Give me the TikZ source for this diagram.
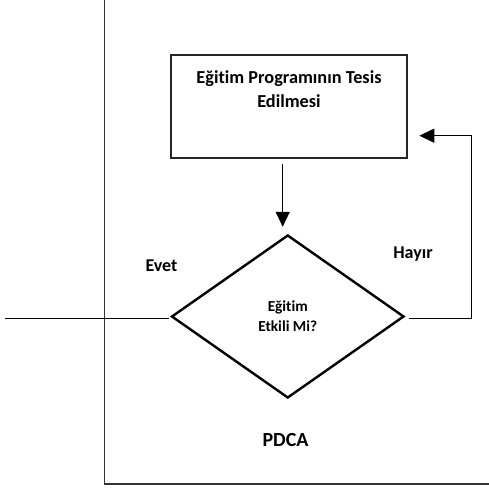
\documentclass[tikz,border=0pt]{standalone}
\usepackage{fontspec}
\setmainfont{Carlito}[Ligatures={NoCommon}]
\usetikzlibrary{arrows.meta,shapes.geometric}
\tikzset{
  progbox/.style={draw=black!85, line width=1.3pt, minimum width=236pt, minimum height=103pt, inner sep=0pt},
  decision/.style={diamond, draw=black, line width=2.4pt, minimum width=232.5pt, minimum height=163pt, inner sep=0pt, align=center, font=\fontsize{15.3}{20}\selectfont\bfseries},
  conn/.style={draw=black, line width=1.3pt},
  arr/.style={conn, -{Triangle[length=15pt,width=14pt]}},
  frameline/.style={draw=black!80, line width=1.5pt},
  lbl/.style={font=\fontsize{18}{23.4}\selectfont\bfseries, inner sep=0pt, anchor=base},
}
\begin{document}
\begin{tikzpicture}[x=1pt,y=1pt]
\useasboundingbox (0,0) rectangle (489,-490);
% outer frame
\coordinate (ftop) at (104.5,0);
\coordinate (fcorner) at (104.5,-484);
\coordinate (fright) at (489,-484);
\draw[frameline] (ftop) -- (fcorner) -- (fright);
% process box
\node[progbox] (prog) at (289,-106.5) {};
\node[font=\fontsize{18.3}{23.4}\selectfont\bfseries, align=center, inner sep=0pt] (progtext) at (289,-89) {Eğitim Programının Tesis\\Edilmesi};
% decision
\node[decision] (dec) at (287.75,-316.5) {Eğitim\\Etkili Mi?};
% labels
\node[lbl] (evet) at (161.5,-271) {Evet};
\node[lbl] (hayir) at (413,-258.5) {Hayır};
\node[lbl, font=\fontsize{20}{24}\selectfont\bfseries] (pdca) at (285.5,-446.5) {PDCA};
% connectors
\draw[arr, shorten <=5pt, shorten >=7pt] ([xshift=-6.3pt]prog.south) -- ([xshift=-6.3pt]prog.south |- dec.north);
\coordinate (fbcorner) at (471.7,-135.7);
\coordinate (fbtip) at (419.3,-135.7);
\draw[arr] ([shift={(4pt,-2.3pt)}]dec.east) -| (fbcorner) -- (fbtip);
\coordinate (leftend) at (5,-318.5);
\draw[conn] ([shift={(-1.5pt,-2pt)}]dec.west) -- (leftend);
\end{tikzpicture}
\end{document}
